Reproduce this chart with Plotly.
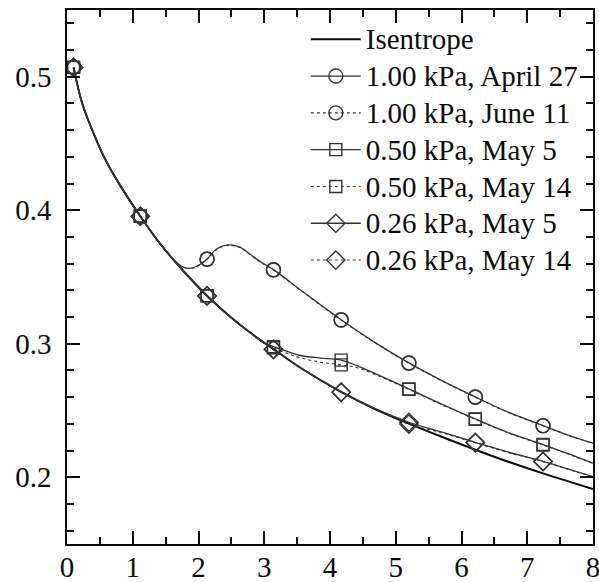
import plotly.graph_objects as go

# Abscissae where the measurements carry a symbol
MARK_X = [0.1, 1.115, 2.13, 3.14, 4.17, 5.2, 6.21, 7.24]

# Isentrope
ISEN_X = [0.1, 0.228, 0.38, 0.557, 0.785, 1.115, 1.4, 1.77, 2.13, 2.5, 2.79,
          3.14, 3.55, 4.17, 4.7, 5.2, 5.68, 6.21, 6.7, 7.24, 7.6, 8.0]
ISEN_Y = [0.507, 0.4805, 0.4605, 0.4405, 0.4205, 0.3955, 0.376, 0.3545, 0.336,
          0.3195, 0.3082, 0.296, 0.282, 0.264, 0.2507, 0.2402, 0.2307, 0.2206,
          0.2118, 0.2029, 0.1973, 0.1912]

# 1.00 kPa
K100_X = [0.1, 0.228, 0.38, 0.557, 0.785, 1.115, 1.4, 1.62, 1.75, 1.87, 2.0,
          2.13, 2.28, 2.45, 2.62, 2.8, 2.94, 3.14, 3.6, 4.17, 4.7, 5.2, 5.68,
          6.21, 6.7, 7.24, 7.6, 8.0]
K100_APR27_Y = [0.507, 0.4805, 0.4605, 0.4405, 0.4205, 0.3955, 0.376, 0.3632,
                0.3578, 0.3565, 0.3588, 0.3635, 0.3712, 0.3740, 0.3725, 0.3665,
                0.3615, 0.3555, 0.3385, 0.318, 0.3005, 0.2857, 0.2730, 0.2602,
                0.2490, 0.2387, 0.2320, 0.2255]
K100_JUN11_Y = [0.507, 0.4805, 0.4605, 0.4405, 0.4205, 0.3955, 0.376, 0.3630,
                0.3575, 0.3562, 0.3585, 0.3632, 0.3708, 0.3737, 0.3722, 0.3662,
                0.3612, 0.3552, 0.3382, 0.3177, 0.3002, 0.2854, 0.2727, 0.2599,
                0.2488, 0.2385, 0.2318, 0.2253]

# 0.50 kPa
K050_X = [0.1, 0.228, 0.38, 0.557, 0.785, 1.115, 1.4, 1.77, 2.13, 2.5, 2.79,
          3.0, 3.14, 3.35, 3.55, 3.85, 4.17, 4.4, 4.8, 5.2, 5.68, 6.21, 6.7,
          7.24, 7.6, 8.0]
K050_MAY5_Y = [0.507, 0.4805, 0.4605, 0.4405, 0.4205, 0.3955, 0.376, 0.3545,
               0.336, 0.3195, 0.3082, 0.3005, 0.2978, 0.2942, 0.2912, 0.2893,
               0.2877, 0.2838, 0.2752, 0.2662, 0.2552, 0.2437, 0.2337, 0.2245,
               0.2180, 0.2105]
K050_MAY14_Y = [0.507, 0.4805, 0.4605, 0.4405, 0.4205, 0.3955, 0.376, 0.3545,
                0.336, 0.3195, 0.3082, 0.3003, 0.2970, 0.2928, 0.2895, 0.2862,
                0.2842, 0.2822, 0.2746, 0.2658, 0.2549, 0.2434, 0.2334, 0.2242,
                0.2178, 0.2103]

# 0.26 kPa
K026_X = [0.1, 0.228, 0.38, 0.557, 0.785, 1.115, 1.4, 1.77, 2.13, 2.5, 2.79,
          3.14, 3.55, 4.17, 4.7, 5.2, 5.68, 6.21, 6.7, 7.24, 7.6, 8.0]
K026_MAY5_Y = [0.507, 0.4805, 0.4605, 0.4405, 0.4205, 0.3955, 0.376, 0.3545,
               0.3358, 0.3195, 0.3082, 0.2958, 0.282, 0.2638, 0.2512, 0.2412,
               0.2342, 0.2262, 0.2190, 0.2119, 0.2065, 0.2005]
K026_MAY14_Y = [0.507, 0.4805, 0.4605, 0.4405, 0.4205, 0.3955, 0.376, 0.3545,
                0.3358, 0.3195, 0.3082, 0.2958, 0.282, 0.2636, 0.2505, 0.2398,
                0.2336, 0.2258, 0.2187, 0.2117, 0.2063, 0.2003]

X_TICKS = [0, 1, 2, 3, 4, 5, 6, 7, 8]
Y_TICKS = [0.2, 0.3, 0.4, 0.5]

FONT = "Liberation Serif"
INK = "#0d0d0d"
GREY = "#333333"
CLEAR = "rgba(0,0,0,0)"


def mark_colors(xs):
    # symbols only at the measurement abscissae; the spline points stay bare
    return [GREY if any(abs(x - m) < 1e-9 for m in MARK_X) else CLEAR for x in xs]


def legend_label(text):
    return '<span style="font-size:29px">' + text + "</span>"


fig = go.Figure()

fig.add_trace(go.Scatter(
    x=ISEN_X, y=ISEN_Y, mode="lines", name=legend_label("Isentrope"),
    line=dict(color=INK, width=2, shape="spline"),
))

series = [
    ("1.00 kPa, April 27", K100_X, K100_APR27_Y, "circle-open", 14, "solid"),
    ("1.00 kPa, June 11", K100_X, K100_JUN11_Y, "circle-open", 14, "dot"),
    ("0.50 kPa, May 5", K050_X, K050_MAY5_Y, "square-open", 12, "solid"),
    ("0.50 kPa, May 14", K050_X, K050_MAY14_Y, "square-open", 12, "dot"),
    ("0.26 kPa, May 5", K026_X, K026_MAY5_Y, "diamond-open", 14, "solid"),
    ("0.26 kPa, May 14", K026_X, K026_MAY14_Y, "diamond-open", 14, "dot"),
]

for name, xs, ys, sym, size, dash in series:
    fig.add_trace(go.Scatter(
        x=xs, y=ys, mode="lines+markers", name=legend_label(name),
        line=dict(color=GREY, width=1.3 if dash == "solid" else 1.1,
                  dash=dash, shape="spline"),
        marker=dict(symbol=sym, size=size, color=mark_colors(xs),
                    line=dict(width=1.4)),
    ))

axis_common = dict(
    showline=True, linecolor=INK, linewidth=1.5, mirror="ticks",
    ticks="inside", tickcolor=INK, tickwidth=1.5, ticklen=13,
    showgrid=False, zeroline=False, automargin=False,
    ticklabeloverflow="allow",
    tickfont=dict(family=FONT, size=29, color=INK),
)

fig.update_xaxes(
    range=[0, 8], tickvals=X_TICKS, ticktext=[str(v) for v in X_TICKS],
    minor=dict(ticks="inside", ticklen=7, tickwidth=1.5, tickcolor=INK,
               dtick=0.5, showgrid=False),
    ticklabelstandoff=-4,
    **axis_common,
)
fig.update_yaxes(
    range=[0.15, 0.55], tickvals=Y_TICKS, ticktext=[str(v) for v in Y_TICKS],
    minor=dict(ticks="inside", ticklen=7, tickwidth=1.5, tickcolor=INK,
               dtick=0.02, tick0=0.0, showgrid=False),
    ticklabelstandoff=8,
    **axis_common,
)

fig.update_layout(
    template="none",
    width=599, height=582,
    margin=dict(l=67, r=6, t=10, b=38),
    paper_bgcolor="white", plot_bgcolor="white",
    font=dict(family=FONT, size=29, color=INK),
    legend=dict(
        x=0.454, y=0.989, xanchor="left", yanchor="top",
        bgcolor="rgba(0,0,0,0)", borderwidth=0,
        font=dict(family=FONT, size=26, color=INK),
        itemwidth=50,
    ),
    showlegend=True,
)

fig.write_html("out.html")
